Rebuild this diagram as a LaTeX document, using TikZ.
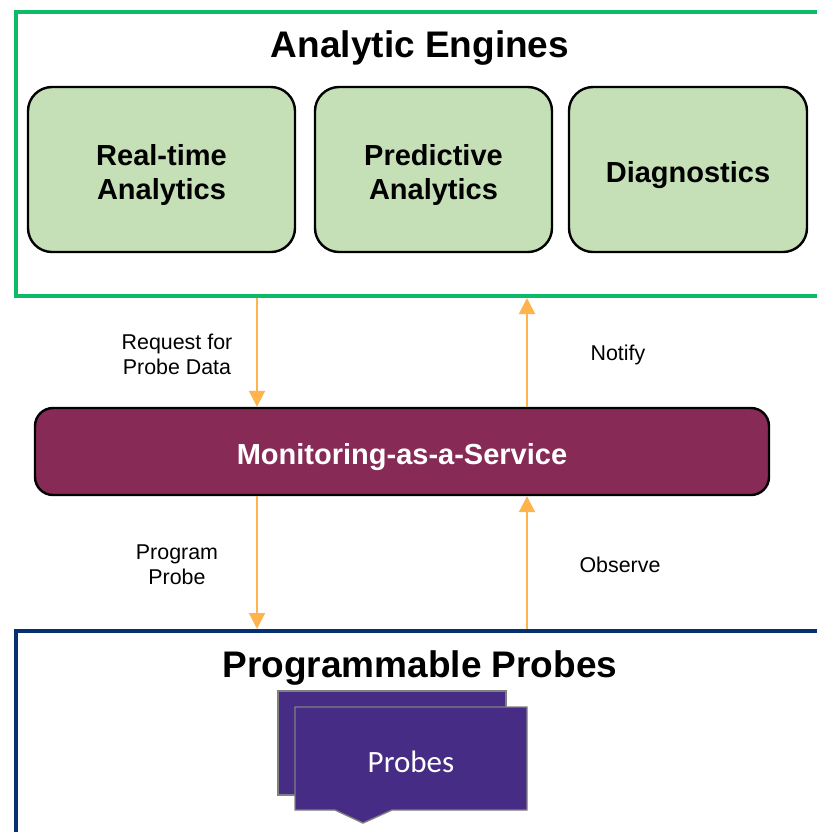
\documentclass[tikz,border=0pt]{standalone}
\usepackage{fontspec}
\setmainfont{Liberation Sans}
\newfontfamily\probefont{Carlito}
\usetikzlibrary{arrows.meta, positioning}
\definecolor{frameedge}{HTML}{0DBA68}
\definecolor{engfill}{HTML}{C5DFB6}
\definecolor{maasfill}{HTML}{872B56}
\definecolor{probeedge}{HTML}{06306F}
\definecolor{probefill}{HTML}{462C85}
\definecolor{flowedge}{HTML}{FFB34D}
\newcommand{\lift}{\rule{0pt}{16pt}}

\begin{document}
\begin{tikzpicture}[
  x=0.5pt, y=-0.5pt,
  frame/.style={rectangle, line width=2pt, minimum width=407.5pt},
  engine/.style={rectangle, rounded corners=12pt, draw=black, line width=1.2pt,
                 fill=engfill, minimum height=82.5pt, align=center,
                 font=\bfseries\fontsize{14.5}{17}\selectfont},
  maas/.style={rectangle, rounded corners=9pt, draw=black, line width=1.2pt,
               fill=maasfill, text=white, minimum width=367pt, minimum height=43.5pt,
               font=\bfseries\fontsize{14.5}{17}\selectfont},
  heading/.style={font=\bfseries\fontsize{18.5}{22}\selectfont},
  flow/.style={draw=flowedge, line width=1pt, -{Triangle[width=8pt, length=8pt]}},
  lab/.style={align=center, font=\fontsize{10.7}{12.2}\selectfont},
  card/.style={draw=gray, line width=0.7pt, fill=probefill},
]
\path[use as bounding box, clip] (0,0) rectangle (817,832);
% frames
\node[frame, draw=frameedge, minimum height=142pt] (engines) at (423.5,154) {};
\node[frame, draw=probeedge, minimum height=110pt] (probes) at (423.5,741) {};
\node[heading] (enghead) at (420,48) {Analytic Engines};
\node[heading] (probehead) at (420,668) {Programmable Probes};
% engine boxes
\node[engine, minimum width=133.5pt] (realtime) at (161.5,169.5) {\lift Real-time\\Analytics};
\node[engine, minimum width=118.5pt] (predictive) at (433.5,169.5) {\lift Predictive\\Analytics};
\node[engine, minimum width=119pt] (diag) at (688,169.5) {\lift Diagnostics};
\node[maas] (service) at (402,451.5) {\lift Monitoring-as-a-Service};
% probe cards
\draw[card] (278,691) rectangle (506,795);
\draw[card] (295,707) -- (527,707) -- (527,810) -- (392,810) -- (363,823)
  -- (335,810) -- (295,810) -- cycle;
\node[text=white, font=\probefont\fontsize{15.5}{18}\selectfont] (cards) at (411,762) {Probes};
% connectors
\coordinate (down) at (257,0);
\coordinate (up) at (527,0);
\draw[flow] (engines.south -| down) -- node[lab, xshift=-40pt, yshift=-1pt] {Request for\\Probe Data} (service.north -| down);
\draw[flow] (service.north -| up) -- node[lab, xshift=45.5pt, yshift=-1.5pt] {Notify} (engines.south -| up);
\draw[flow] (service.south -| down) -- node[lab, xshift=-40pt, yshift=-1pt] {Program\\Probe} (probes.north -| down);
\draw[flow] (probes.north -| up) -- node[lab, xshift=46.5pt, yshift=-1pt] {Observe} (service.south -| up);
\end{tikzpicture}
\end{document}
